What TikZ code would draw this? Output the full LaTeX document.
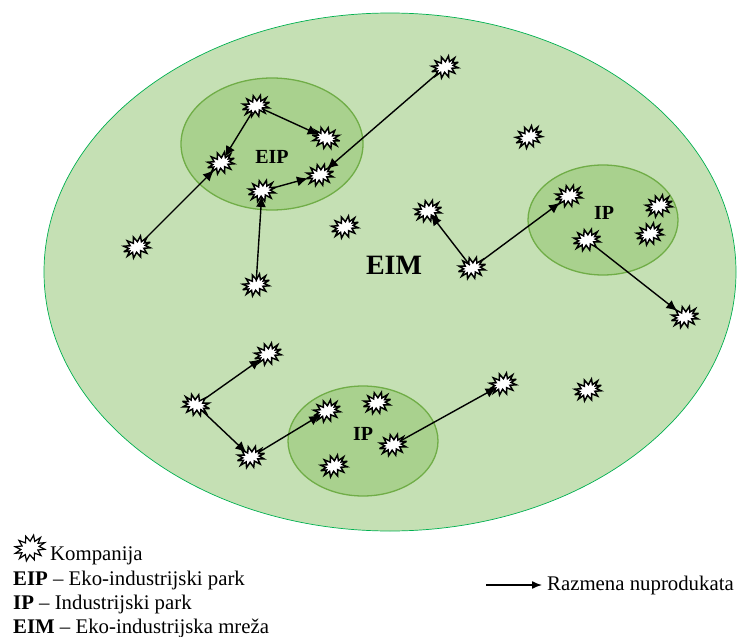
\documentclass[tikz,border=0pt]{standalone}
\usepackage{fontspec}
\setmainfont{Liberation Serif}
\usetikzlibrary{shapes.symbols,shapes.geometric,arrows.meta}
\definecolor{bigfill}{HTML}{C5E0B4}
\definecolor{bigline}{HTML}{00B050}
\definecolor{smallfill}{HTML}{A9D18E}
\definecolor{smallline}{HTML}{70AD47}
\tikzset{
  x=1pt,y=-1pt,
  company/.style={starburst,starburst points=12,starburst point height=5.5pt,random starburst=0,
    draw=black,line width=1.5pt,fill=white,minimum width=28pt,minimum height=21pt,inner sep=0pt,outer sep=0pt,miter limit=4,rotate=#1},
  company/.default=0,
  flow/.style={-{Latex[length=11pt,width=10pt]},line width=1.4pt,black,shorten >=-1pt,shorten <=-2pt},
  park/.style={ellipse,draw=smallline,line width=1.3pt,fill=smallfill,inner sep=0pt},
  legend/.style={anchor=west,font=\fontsize{20.8}{21}\selectfont,inner sep=0pt},
  plabel/.style={font=\fontsize{20}{20}\selectfont\bfseries,inner sep=0pt}
}
\begin{document}
\begin{tikzpicture}
\useasboundingbox (0,0) rectangle (737,637);
\clip (0,0) rectangle (737,637);
\node[ellipse,draw=bigline,line width=.7pt,fill=bigfill,minimum width=692pt,minimum height=518pt,inner sep=0pt] (eim) at (390,272) {};
\node[park,minimum width=182pt,minimum height=132pt] (eip) at (272,144) {};
\node[park,minimum width=150pt,minimum height=110pt] (ipa) at (603,220) {};
\node[park,minimum width=150pt,minimum height=110pt] (ipb) at (363,441) {};
\node[plabel] (leip) at (272,157) {EIP};
\node[plabel] (lipa) at (604,213) {IP};
\node[plabel] (lipb) at (363,434) {IP};
\node[font=\fontsize{28}{28}\selectfont\bfseries,inner sep=0pt] (leim) at (394,265) {EIM};
\foreach \n/\p/\s in {s1/{137,247}/20,s2/{221,163}/20,s3/{256,106}/15,s4/{326,138}/-12,s5/{262,191}/15,s6/{320,175}/15,s7/{445,67}/20,s8/{529,137}/25,s9/{345,227}/20,s10/{428,211}/15,s11/{256,285}/20,s12/{472,268}/15,s13/{569,196}/15,s14/{659,206}/20,s15/{650,234}/20,s16/{587,240}/15,s17/{685,317}/15,s18/{268,354}/20,s19/{196,405}/-15,s20/{327,411}/20,s21/{377,403}/15,s22/{251,457}/15,s23/{334,466}/20,s24/{393,445}/15,s25/{503,384}/20,s26/{588,390}/20}
  \node[company=\s] (\n) at (\p) {};
\draw[flow] (s1) -- (s2);
\draw[flow] (s3) -- (s2);
\draw[flow] (s3) -- (s4);
\draw[flow] (s5) -- (s6);
\draw[flow] (s11) -- (s5);
\draw[flow] (s7) -- (s6);
\draw[flow] (s12) -- (s10);
\draw[flow] (s12) -- (s13);
\draw[flow] (s16) -- (s17);
\draw[flow] (s19) -- (s18);
\draw[flow] (s19) -- (s22);
\draw[flow] (s22) -- (s20);
\draw[flow] (s24) -- (s25);
\node[company=20,line width=1.2pt,minimum width=31pt,minimum height=25pt,starburst point height=6pt] (lstar) at (30,548) {};
\node[legend] (l1) at (50,556) {Kompanija};
\node[legend] (l2) at (13,580) {\textbf{EIP} – Eko-industrijski park};
\node[legend] (l3) at (13,604) {\textbf{IP} – Industrijski park};
\node[legend] (l4) at (13,628) {\textbf{EIM} – Eko-industrijska mreža};
\node[legend] (l5) at (547,585) {Razmena nuprodukata};
\coordinate (la) at (486,585);
\draw[flow,-{Latex[length=10pt,width=8pt]},shorten <=0pt,shorten >=5pt] (la) -- (l5.west);
\end{tikzpicture}
\end{document}
